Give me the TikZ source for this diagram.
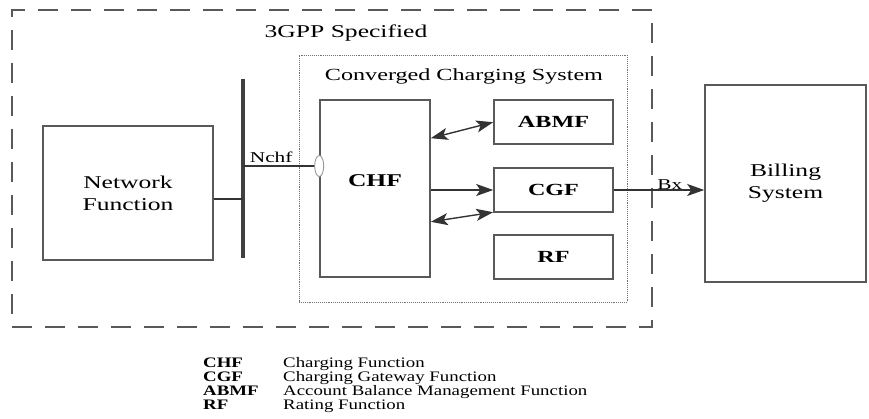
\documentclass[tikz,border=0pt]{standalone}
\usepackage{fontspec}
\setmainfont{Liberation Serif}[FakeStretch=1.42]
\newfontfamily\legendfont{Liberation Serif}[FakeStretch=1.3]
\usetikzlibrary{arrows.meta, positioning, calc, shapes.geometric}

\begin{document}
\begin{tikzpicture}[
            x=1pt, y=-1pt,
            >={Stealth[length=17pt, width=12pt, inset=4pt]},
            blk/.style   ={draw=black!65, line width=1.6pt, inner sep=0pt, align=center},
            fnbox/.style ={blk, font=\fontsize{18}{22}\selectfont},
            subbox/.style={blk, minimum width=119pt, minimum height=44pt,
                    font=\fontsize{17}{19}\selectfont\bfseries},
            lnk/.style   ={line width=1.4pt, draw=black!80},
            lbl/.style   ={font=\fontsize{15}{17}\selectfont, inner sep=1pt},
            abbr/.style  ={anchor=base west, inner sep=0pt, font=\legendfont\fontsize{14.5}{14}\selectfont\bfseries},
            desc/.style  ={anchor=base west, inner sep=0pt, font=\legendfont\fontsize{14.5}{14}\selectfont}
        ]
        \useasboundingbox (0,0) rectangle (869,419);

        %% --- frames ---
        \node[draw=black!65, line width=1.4pt, dash pattern=on 20pt off 13pt,
              minimum width=640pt, minimum height=317pt, inner sep=0pt]
              (spec) at (332,168.5) {};
        \node[font=\fontsize{18}{20}\selectfont] (spectxt) at (346,33) {3GPP Specified};
        \node[draw=black!55, densely dotted, line width=0.9pt,
              minimum width=328pt, minimum height=247pt, inner sep=0pt]
              (ccs) at (463,178.5) {};
        \node[font=\fontsize{17}{19}\selectfont] (ccstxt) at (464,76) {Converged Charging System};

        %% --- boxes ---
        \node[fnbox, minimum width=170pt, minimum height=134pt] (nf) at (128,193) {Network\\ Function};
        \node[blk, minimum width=110pt, minimum height=177pt] (chf) at (375,188.5) {};
        \node[font=\fontsize{18}{20}\selectfont\bfseries] (chftxt) at (375,181) {CHF};
        \node[subbox] (abmf) at (553.5,122) {ABMF};
        \node[subbox] (cgf)  at (553.5,190) {CGF};
        \node[subbox] (rf)   at (553.5,257) {RF};
        \node[fnbox, minimum width=161pt, minimum height=197pt] (bill) at (785.5,183.5) {Billing\\ System};

        %% --- bus bar and Nchf ---
        \coordinate (bustop) at (243,79);
        \coordinate (busbot) at (243,258);
        \draw[line width=4pt, black!75] (bustop) -- (busbot);
        \draw[lnk, line width=2.8pt] (nf.east |- 0,199) -- (bustop |- 0,199);
        \draw[lnk, line width=2.5pt] (bustop |- 0,166) -- (chf.west |- 0,166)
              node[lbl, pos=0.37, above=1pt] (nchf) {Nchf};
        \node[draw=black!40, fill=white, ellipse, line width=0.9pt,
              minimum width=9pt, minimum height=21pt, inner sep=0pt]
              (svc) at (chf.west |- 0,166) {};

        %% --- reference points ---
        \draw[lnk, <->] ([yshift=-39pt]chf.north east) -- ([yshift=-23pt]abmf.north west);
        \draw[lnk, ->]  (chf.east |- cgf.west) -- (cgf.west);
        \draw[lnk, <->] ([yshift=56pt]chf.south east) -- ([yshift=22pt]rf.north west);
        \draw[lnk, ->]  (cgf.east) -- (bill.west |- cgf.east)
              node[lbl, pos=0.62, above=-1pt] (bx) {Bx};

        %% --- legend ---
        \node[abbr] (lchf)  at (203,367) {CHF};
        \node[abbr] (lcgf)  at (203,381) {CGF};
        \node[abbr] (labmf) at (203,395) {ABMF};
        \node[abbr] (lrf)   at (203,409) {RF};
        \node[desc] (dchf)  at (283,367) {Charging Function};
        \node[desc] (dcgf)  at (283,381) {Charging Gateway Function};
        \node[desc] (dabmf) at (283,395) {Account Balance Management Function};
        \node[desc] (drf)   at (283,409) {Rating Function};
    \end{tikzpicture}
\end{document}
